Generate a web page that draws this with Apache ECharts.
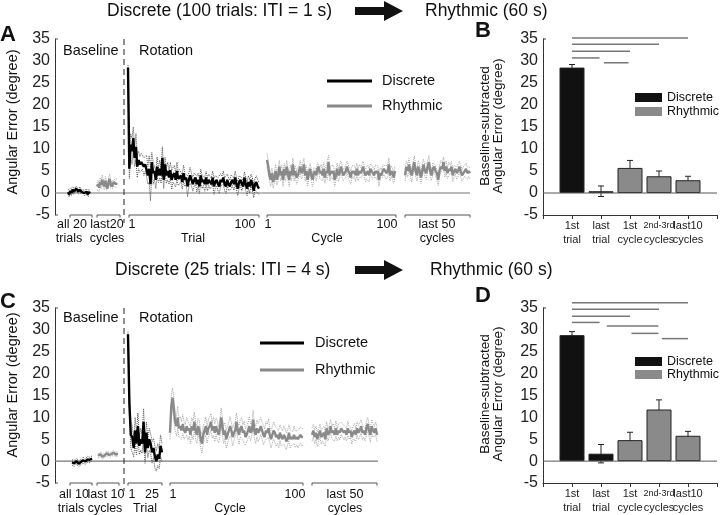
<!DOCTYPE html>
<html><head><meta charset="utf-8">
<script src="https://cdn.jsdelivr.net/npm/echarts@6/dist/echarts.min.js"></script>
<style>html,body{margin:0;padding:0;background:#fff}#c{width:720px;height:515px}</style>
</head><body><div id="c"></div>
<script>
// ---------------- DATA ----------------
// Panel A (Discrete 100 trials, ITI = 1 s)
const A_baseD = [0.2,-0.3,0.5,0,0.8,0.3,0.6,1.0,0.7,0.3, 0.8,0.5,0.2,0.6,0,-0.2,0.3,-0.3,0.2,-0.1];
const A_baseD_sem = [0.5,0.6,0.5,0.6,0.5,0.6,0.5,0.6,0.5,0.5, 0.6,0.5,0.6,0.5,0.6,0.5,0.6,0.5,0.6,0.5];
const A_baseR = [1.5,2,1.2,2.5,1.8,3,2.2,1.5,2.8,1.5, 1,2.5,3.2,2,1.5,2,2.5,2.2,2,2.3];
const A_baseR_sem = [0.8,0.9,0.8,1,0.9,1.1,0.9,0.8,1,0.9, 0.8,1,1.1,0.9,0.8,0.9,0.8,0.9,0.8,0.9];
const A_trial = [28.5,5.5,11,9.5,12.5,8,10.5,6,7.5,6.5, 7,7.2,6,6.5,6.2,4,5.5,2,7,4.5,
  5,3,6,4,5.5,4,8,3,6.5,4, 5,3.5,5.2,3,4,4.5,3,5,3.2,3.5, 4,2.5,4.5,3,3.5,1.5,3,4,3,2,
  3,3.5,2,3,1.5,4,2.5,3,2,3.5, 2,3,2.5,2,3.5,1.5,2.5,3,2,1.5, 3,2.5,3.5,2,1.5,3,2,1.5,2.5,3,
  2,3.5,2,1,2.5,3,2,1.5,3.5,2, 1,2.5,1.5,3,2,0.5,2,2.5,1.5,1];
const A_trial_sem = [0.6,2.2,2.5,3,2.5,2,3,2.5,2,1.8, 2,1.8,2,1.6,2.4,2,3,3.8,2.2,2.5,
  1.8,2,2.2,1.6,2,1.8,2.5,2,1.6,1.8, 2,1.5,1.8,2.2,1.5,1.8,1.6,2,1.5,1.8, 1.4,1.6,1.8,1.5,1.4,2.4,1.5,1.8,1.4,1.6,
  1.5,1.3,1.8,1.5,1.6,1.4,1.5,1.3,1.6,1.4, 1.5,1.3,1.6,1.4,1.5,1.8,1.4,1.3,1.5,1.6, 1.4,1.3,1.5,1.4,1.6,1.3,1.5,1.4,1.6,1.3,
  1.4,1.5,1.3,1.6,1.4,1.3,1.5,1.4,1.3,1.5, 1.6,1.4,1.5,1.3,1.4,1.6,1.3,1.4,1.5,1.4];
const A_cycle = [7.5,6,4,3,4.5,2.5,3.5,5,3,4, 6,4,5,3,5.5,4,6,4.5,3,5, 4,6.5,4,5,3.5,4,5,6,4.5,5,
  6.5,4,5,3,4.5,5.5,4,3,4.5,5, 4,5.5,6,4.5,5,4,5.5,3.5,5,4.5, 7,4,5,4.5,5,3,4,5.5,4,4.5,
  6,5,4,4.5,5,6,5,4.5,3.5,5, 4.5,5,4,5.5,4,5,4.5,5,6,5, 4,4.5,5,4,5.5,5,4.5,4,5,4.5,
  5,3,4.5,4,5,5.5,5,4.5,5,6.5, 4,5,4.5,3.5,5];
const A_cycle_sem = [1.5,1.4,1.3,1.5,1.2,1.4,1.3,1.5,1.2,1.3, 1.4,1.2,1.3,1.5,1.2,1.3,1.4,1.2,1.5,1.3,
  1.2,1.4,1.3,1.2,1.5,1.3,1.2,1.4,1.3,1.2, 1.4,1.3,1.2,1.5,1.3,1.2,1.4,1.5,1.3,1.2, 1.3,1.4,1.2,1.3,1.5,1.2,1.4,1.3,1.2,1.4,
  1.5,1.3,1.2,1.4,1.3,1.5,1.2,1.3,1.4,1.2, 1.3,1.4,1.2,1.3,1.5,1.2,1.4,1.3,1.5,1.2, 1.3,1.2,1.4,1.3,1.2,1.5,1.3,1.4,1.2,1.3,
  1.4,1.2,1.3,1.5,1.2,1.3,1.4,1.2,1.3,1.4, 1.2,1.5,1.3,1.2,1.4,1.3,1.2,1.4,1.3,1.5, 1.3,1.2,1.4,1.3,1.2];
const A_last = [4,6,5,6.5,5,4,5.5,7,5,4, 6,5,3.5,5,6.5,5,4.5,6,7,5, 4,5.5,6,5,4.5,3,5,6,5.5,7,
  5,6,4.5,5.5,5,6,4,5,5.5,4.5, 5,6,5,4,4.5,5,5.5,4.5,5,4.5];
const A_last_sem = [1.3,1.2,1.4,1.3,1.2,1.5,1.3,1.4,1.2,1.3, 1.4,1.2,1.3,1.5,1.2,1.3,1.4,1.2,1.5,1.3,
  1.2,1.4,1.3,1.2,1.5,1.3,1.2,1.4,1.3,1.2, 1.4,1.3,1.2,1.5,1.3,1.2,1.4,1.3,1.2,1.4, 1.3,1.2,1.4,1.3,1.5,1.2,1.3,1.4,1.2,1.3];

// Panel C (Discrete 25 trials, ITI = 4 s)
const C_baseD = [-0.3,-0.5,0,-0.6,-0.2,0.2,-0.1,0.4,0.3,0.6];
const C_baseD_sem = [0.6,0.7,0.6,0.7,0.6,0.7,0.6,0.7,0.6,0.6];
const C_baseR = [1.2,1.6,1.0,1.3,1.8,1.4,1.6,1.9,1.5,1.7];
const C_baseR_sem = [0.5,0.6,0.5,0.6,0.5,0.6,0.5,0.6,0.5,0.6];
const C_trial = [29,13,6,5.5,3,7,4,8,3.5,5, 4,9,2,6.5,3,5,4,2,3,1, 0,1.5,0.5,3.5,2];
const C_trial_sem = [0.6,2.5,3,2.5,2,3,2.5,3,2,2.5, 2.2,3,2.5,2.5,2.2,2.5,2.2,2.5,2.2,2.5, 2.3,2.5,2.2,2.5,2];
const C_cycle = [6.5,12.5,14.5,12,9,8,10,7.5,8,7, 8.5,7,6.5,8,7,7.5,6,8,7,9, 7,6,8,7,5,4,6,7,8,6,
  7.5,8,9,7,8,6.5,8,7,6,7.5, 10,8,6,7,5,6,7,8,7,5.5, 6.5,7,9,7,6,7.5,8,6.5,7,5.5,
  6,7,8,6.5,7,9.5,7,6,7.5,6.5, 7,8,7,6,5.5,7,6.5,7.5,6,5, 6,7,6.5,5.5,6,5,6.5,5.5,5,6,
  5.5,4.5,5,6.5,5,5.5,5,6,5,5.5, 5,5.5,6,5.5,5.5];
const C_cycle_sem = [1.5,2.5,2.2,2.5,2,2.2,2.5,2,2.2,2, 2.2,2,1.8,2,2.2,1.8,2,1.9,2.1,2.2,
  1.9,2,1.8,2.1,1.9,2.2,2,1.8,2.1,1.9, 2,2.2,1.9,1.8,2.1,2,1.9,2.2,1.8,2, 2.2,1.9,2,1.8,2.1,1.9,2,2.2,1.8,2,
  1.9,2.1,2,1.8,2.2,1.9,2,1.8,2.1,1.9, 2,1.8,2.2,1.9,2,2.1,1.8,2,1.9,2.1, 1.8,2,1.9,2.2,1.8,2,1.9,2.1,1.8,2,
  1.9,2,1.8,2.1,1.9,2,1.8,2,1.9,2.1, 1.8,1.9,2,1.8,2.1,1.9,1.8,2,1.9,1.8, 2,1.9,1.8,2,1.9];
const C_last = [6,7,5.5,6.5,5,6,7,5.5,6,6.5, 5,7.5,6,6.5,8,6.5,7,6,7.5,6, 7,6.5,7.5,7,6.5,7,6,7.5,6.5,7,
  5.5,6.5,7,6,7.5,6.5,7,8,6.5,7, 6,7.5,8.5,7,6,8,7,6.5,7.5,6];
const C_last_sem = [1.5,1.4,1.6,1.5,1.7,1.4,1.5,1.6,1.4,1.5, 1.6,1.5,1.4,1.7,1.5,1.4,1.6,1.5,1.7,1.4,
  1.5,1.6,1.4,1.5,1.7,1.5,1.4,1.6,1.5,1.4, 1.6,1.5,1.7,1.4,1.5,1.6,1.4,1.5,1.7,1.5, 1.4,1.6,1.5,1.4,1.7,1.5,1.6,1.4,1.5,1.6];

// Bar panels
const barCategories = ['1st\ntrial', 'last\ntrial', '1st\ncycle', '{s|2nd-3rd}\ncycles', 'last10\ncycles'];
const barKinds = ['Discrete', 'Discrete', 'Rhythmic', 'Rhythmic', 'Rhythmic'];
const B_means = [28.5, 0.4, 5.7, 3.8, 2.9];
const B_sem = [0.7, 1.2, 1.7, 1.2, 0.9];
const D_means = [28.8, 1.7, 4.8, 11.8, 5.8];
const D_sem = [0.8, 2.1, 1.8, 2.2, 1.0];
// significance lines: [from category, to category, height]
const B_sig = [[1,5,35.2],[1,4,33.8],[1,3,32.2],[1,1.95,30.7],[2.1,2.95,29.6]];
const D_sig = [[1,5,36.2],[1,4,34.7],[1,3,33.1],[1,1.95,31.7],[2.2,3.98,30.9],[3.05,3.98,29.2],[4.1,5,28.0]];
const yTicks = {min: -5, max: 35, interval: 5};

// ---------------- LAYOUT / STYLE ----------------
const FONT = 'Liberation Sans, Arial, Helvetica, sans-serif';
const COL_D = '#000', COL_R = '#8a8a8a', DOT_D = '#555', DOT_R = '#a8a8a8';

const chart = echarts.init(document.getElementById('c'), null, {renderer: 'canvas'});

function pts(vals, span, sem, sign) {
  const n = vals.length;
  return vals.map((v, i) => [span[0] + (n === 1 ? 0 : i * (span[1] - span[0]) / (n - 1)), v + (sem ? sign * sem[i] : 0)]);
}
function segLines(gi, vals, sem, span, kind) {
  const c = kind === 'D' ? COL_D : COL_R, dc = kind === 'D' ? DOT_D : DOT_R;
  const base = {type: 'line', xAxisIndex: gi, yAxisIndex: gi, symbol: 'none', silent: true, animation: false};
  return [
    Object.assign({}, base, {data: pts(vals, span, sem, 1), z: 2, lineStyle: {color: dc, width: 1, type: 'dotted'}}),
    Object.assign({}, base, {data: pts(vals, span, sem, -1), z: 2, lineStyle: {color: dc, width: 1, type: 'dotted'}}),
    Object.assign({}, base, {data: pts(vals, span), z: 3, lineStyle: {color: c, width: 2.4}})
  ];
}
function polySeries(gi, polys, color, width, dash, z) {
  return {type: 'custom', xAxisIndex: gi, yAxisIndex: gi, silent: true, clip: false, z: z || 4,
    data: polys.map((p, i) => [p[0], p[1], i]),
    renderItem: (params, api) => {
      const arr = polys[params.dataIndex];
      const points = [];
      for (let k = 0; k < arr.length; k += 2) points.push(api.coord([arr[k], arr[k + 1]]));
      return {type: 'polyline', shape: {points}, style: {stroke: color, lineWidth: width, fill: null, lineDash: dash || null}};
    }};
}
function bracket(x1, x2) { const e = 0.6; return [x1, -5 - e, x1, -5, x2, -5, x2, -5 - e]; }
function errSeries(gi, means, sem) {
  return {type: 'custom', xAxisIndex: gi, yAxisIndex: gi, silent: true, z: 1,
    data: means.map((m, i) => [i + 1, m - sem[i], m + sem[i]]),
    renderItem: (params, api) => {
      const lo = api.coord([api.value(0), api.value(1)]), hi = api.coord([api.value(0), api.value(2)]);
      const st = {stroke: '#222', lineWidth: 1};
      return {type: 'group', children: [
        {type: 'line', shape: {x1: lo[0], y1: lo[1], x2: hi[0], y2: hi[1]}, style: st},
        {type: 'line', shape: {x1: hi[0] - 3, y1: hi[1], x2: hi[0] + 3, y2: hi[1]}, style: st},
        {type: 'line', shape: {x1: lo[0] - 3, y1: lo[1], x2: lo[0] + 3, y2: lo[1]}, style: st}
      ]};
    }};
}
function barSeries(gi, means) {
  return {type: 'bar', xAxisIndex: gi, yAxisIndex: gi, barWidth: 25, silent: true, z: 2,
    data: means.map((m, i) => ({value: [i + 1, m], itemStyle: {color: barKinds[i] === 'Discrete' ? '#111' : '#8a8a8a', borderColor: '#222', borderWidth: 1}}))};
}

const yAxisBase = (gi) => ({type: 'value', gridIndex: gi, min: yTicks.min, max: yTicks.max, interval: yTicks.interval,
  axisLine: {show: true, onZero: false, lineStyle: {color: '#333', width: 1}}, axisTick: {show: false}, splitLine: {show: false},
  axisLabel: {fontSize: 16, color: '#222', margin: 5, fontFamily: FONT}});
const xHidden = (gi, max) => ({type: 'value', gridIndex: gi, min: 0, max: max, show: false});
const xBars = (gi) => ({type: 'value', gridIndex: gi, min: 0, max: 6, interval: 1,
  axisLine: {show: true, onZero: false, lineStyle: {color: '#333', width: 1}},
  axisTick: {show: true, length: 4, lineStyle: {color: '#333'}}, splitLine: {show: false},
  axisLabel: {fontSize: 11, color: '#222', margin: 4, lineHeight: 14, fontFamily: FONT,
    showMinLabel: true, showMaxLabel: true,
    formatter: v => barCategories[v - 1] || '', rich: {s: {fontSize: 9, fontFamily: FONT, color: '#222'}}}});

// segment positions (axis units = pixels from y axis)
const A_spans = {baseD: [13, 35], baseR: [42, 62], trial: [73, 204], cycle: [212, 340], last: [350, 415]};
const C_spans = {baseD: [17, 37], baseR: [43, 63], trial: [73, 107], cycle: [115, 248], last: [257, 322]};

const series = [];
// Panel A
series.push(...segLines(0, A_baseD, A_baseD_sem, A_spans.baseD, 'D'));
series.push(...segLines(0, A_baseR, A_baseR_sem, A_spans.baseR, 'R'));
series.push(...segLines(0, A_trial, A_trial_sem, A_spans.trial, 'D'));
series.push(...segLines(0, A_cycle, A_cycle_sem, A_spans.cycle, 'R'));
series.push(...segLines(0, A_last, A_last_sem, A_spans.last, 'R'));
series.push(polySeries(0, [[0, 0, 415, 0]], '#777', 1.2, null, 1));
series.push(polySeries(0, [[69, 35, 69, -6.8]], '#222', 1, [6, 4], 1));
series.push(polySeries(0, [bracket(15, 37), bracket(42, 65), bracket(74, 204), bracket(212, 341), bracket(350, 415),
  [0, 35, 3, 35], [0, -5, 3, -5]], '#555', 1));
// Panel C
series.push(...segLines(2, C_baseD, C_baseD_sem, C_spans.baseD, 'D'));
series.push(...segLines(2, C_baseR, C_baseR_sem, C_spans.baseR, 'R'));
series.push(...segLines(2, C_trial, C_trial_sem, C_spans.trial, 'D'));
series.push(...segLines(2, C_cycle, C_cycle_sem, C_spans.cycle, 'R'));
series.push(...segLines(2, C_last, C_last_sem, C_spans.last, 'R'));
series.push(polySeries(2, [[0, 0, 323, 0]], '#777', 1.2, null, 1));
series.push(polySeries(2, [[69, 35, 69, -6.8]], '#222', 1, [6, 4], 1));
series.push(polySeries(2, [bracket(15, 37), bracket(42, 64), bracket(73, 107), bracket(115, 248), bracket(257, 322),
  [0, 35, 3, 35], [0, -5, 3, -5]], '#555', 1));
// Panel B
series.push(polySeries(1, [[0, 0, 6, 0]], '#555', 1, null, 0));
series.push(errSeries(1, B_means, B_sem));
series.push(barSeries(1, B_means));
series.push(polySeries(1, B_sig.map(s => [s[0], s[2], s[1], s[2]]), '#777', 1.5));
series.push(polySeries(1, [[0, 35, 0.1, 35]], '#333', 1));
// Panel D
series.push(polySeries(3, [[0, 0, 6, 0]], '#555', 1, null, 0));
series.push(errSeries(3, D_means, D_sem));
series.push(barSeries(3, D_means));
series.push(polySeries(3, D_sig.map(s => [s[0], s[2], s[1], s[2]]), '#777', 1.5));
series.push(polySeries(3, [[0, 35, 0.1, 35]], '#333', 1));

// ---------------- TEXT / DECORATION ----------------
function txt(text, x, y, size, align, extra) {
  return {type: 'text', x: x, y: y, silent: true, rotation: (extra && extra.rotation) || 0,
    style: Object.assign({text: text, fontSize: size, fontFamily: FONT, fill: '#111', align: align || 'center', verticalAlign: 'middle'}, (extra && extra.style) || {})};
}
function arrow(y) {
  return {type: 'polygon', silent: true, shape: {points: [[355, y - 4], [384, y - 4], [384, y - 10], [403, y], [384, y + 10], [384, y + 4], [355, y + 4]]}, style: {fill: '#111'}};
}
const graphics = [
  // titles
  txt('Discrete (100 trials: ITI = 1 s)', 107, 11, 17.5, 'left'),
  arrow(11),
  txt('Rhythmic (60 s)', 425, 11, 17.5, 'left'),
  txt('Discrete (25 trials: ITI = 4 s)', 115, 270, 17.5, 'left'),
  arrow(270),
  txt('Rhythmic (60 s)', 430, 270, 17.5, 'left'),
  // panel letters
  txt('A', 0, 35, 22, 'left', {style: {fontWeight: 'bold'}}),
  txt('B', 475, 31, 22, 'left', {style: {fontWeight: 'bold'}}),
  txt('C', 0, 302, 22, 'left', {style: {fontWeight: 'bold'}}),
  txt('D', 475, 296, 22, 'left', {style: {fontWeight: 'bold'}}),
  // y axis names
  txt('Angular Error (degree)', 13, 122, 14.5, 'center', {rotation: Math.PI / 2}),
  txt('Angular Error (degree)', 13, 385, 14.5, 'center', {rotation: Math.PI / 2}),
  txt('Baseline-subtracted\nAngular Error (degree)', 492, 126, 13.5, 'center', {rotation: Math.PI / 2, style: {lineHeight: 13}}),
  txt('Baseline-subtracted\nAngular Error (degree)', 492, 394, 13.5, 'center', {rotation: Math.PI / 2, style: {lineHeight: 13}}),
  // phase labels
  txt('Baseline', 63, 51, 14.5, 'left'), txt('Rotation', 139, 51, 14.5, 'left'),
  txt('Baseline', 63, 318, 14.5, 'left'), txt('Rotation', 139, 318, 14.5, 'left'),
  // A line legend
  {type: 'line', silent: true, shape: {x1: 327, y1: 81, x2: 372, y2: 81}, style: {stroke: COL_D, lineWidth: 3}},
  {type: 'line', silent: true, shape: {x1: 327, y1: 106, x2: 372, y2: 106}, style: {stroke: COL_R, lineWidth: 3}},
  txt('Discrete', 382, 81, 14.5, 'left'), txt('Rhythmic', 382, 106, 14.5, 'left'),
  // C line legend
  {type: 'line', silent: true, shape: {x1: 260, y1: 343, x2: 304, y2: 343}, style: {stroke: COL_D, lineWidth: 3}},
  {type: 'line', silent: true, shape: {x1: 260, y1: 370, x2: 304, y2: 370}, style: {stroke: COL_R, lineWidth: 3}},
  txt('Discrete', 315, 343, 14.5, 'left'), txt('Rhythmic', 315, 370, 14.5, 'left'),
  // B bar legend
  {type: 'rect', silent: true, shape: {x: 635, y: 93, width: 27, height: 9}, style: {fill: '#111'}},
  {type: 'rect', silent: true, shape: {x: 635, y: 107, width: 27, height: 9}, style: {fill: '#8a8a8a'}},
  txt('Discrete', 667, 97.5, 12.5, 'left'), txt('Rhythmic', 667, 111.5, 12.5, 'left'),
  // D bar legend
  {type: 'rect', silent: true, shape: {x: 635, y: 357, width: 27, height: 9}, style: {fill: '#111'}},
  {type: 'rect', silent: true, shape: {x: 635, y: 370, width: 27, height: 9}, style: {fill: '#8a8a8a'}},
  txt('Discrete', 667, 361.5, 12.5, 'left'), txt('Rhythmic', 667, 374.5, 12.5, 'left'),
  // A segment labels
  txt('all 20', 72, 225, 12.5), txt('trials', 69, 239, 12.5),
  txt('last20', 107, 225, 12.5), txt('cycles', 107, 239, 12.5),
  txt('1', 132, 225, 12.5), txt('100', 245, 225, 12.5), txt('Trial', 193, 239, 12.5),
  txt('1', 268, 225, 12.5), txt('100', 387, 225, 12.5), txt('Cycle', 327, 239, 12.5),
  txt('last 50', 437, 225, 12.5), txt('cycles', 437, 239, 12.5),
  // C segment labels
  txt('all 10', 74, 495, 12.5), txt('trials', 71, 509, 12.5),
  txt('last 10', 106, 495, 12.5), txt('cycles', 105, 509, 12.5),
  txt('1', 132, 495, 12.5), txt('25', 152, 495, 12.5), txt('Trial', 145, 509, 12.5),
  txt('1', 173, 495, 12.5), txt('100', 295, 495, 12.5), txt('Cycle', 230, 509, 12.5),
  txt('last 50', 345, 495, 12.5), txt('cycles', 345, 509, 12.5)
];

chart.setOption({
  animation: false,
  backgroundColor: '#fff',
  textStyle: {fontFamily: FONT},
  grid: [
    {left: 55, top: 39, width: 415, height: 176},
    {left: 543, top: 39, width: 177, height: 176},
    {left: 55, top: 308, width: 323, height: 175},
    {left: 543, top: 308, width: 177, height: 175}
  ],
  xAxis: [xHidden(0, 415), xBars(1), xHidden(2, 323), xBars(3)],
  yAxis: [yAxisBase(0), yAxisBase(1), yAxisBase(2), yAxisBase(3)],
  series: series,
  graphic: graphics
});
</script>
</body></html>
